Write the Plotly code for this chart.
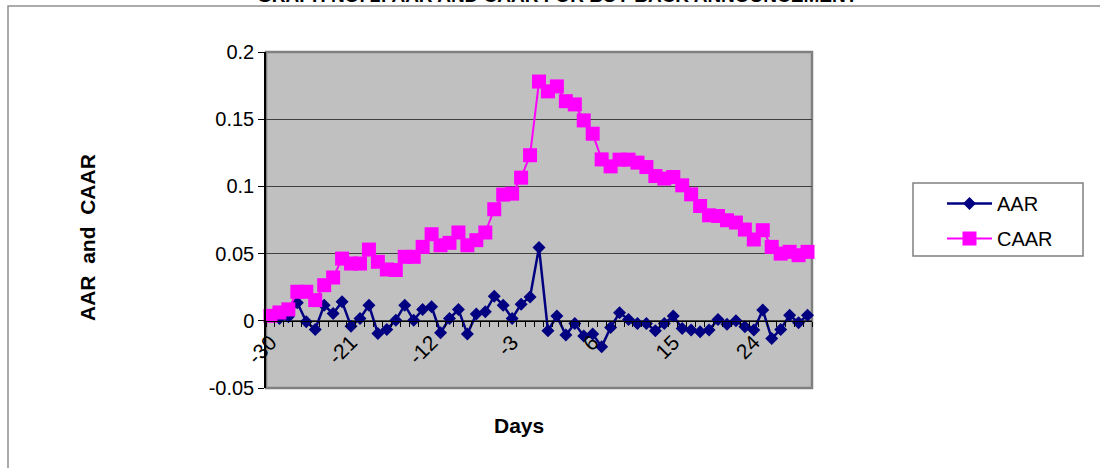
import plotly.graph_objects as go

days = list(range(-30, 31))

aar = [0.0037, 0.0017, 0.0030, 0.0134, -0.0007, -0.0064, 0.0116, 0.0054, 0.0141, -0.0040,
       0.0017, 0.0116, -0.0094, -0.0064, 0.0005, 0.0116, 0.0005, 0.0084, 0.0104, -0.0089,
       0.0017, 0.0084, -0.0099, 0.0050, 0.0067, 0.0183, 0.0116, 0.0017, 0.0124, 0.0178,
       0.0545, -0.0074, 0.0035, -0.0106, -0.0020, -0.0114, -0.0099, -0.0193, -0.0049, 0.0060,
       0.0010, -0.0020, -0.0020, -0.0074, -0.0020, 0.0035, -0.0057, -0.0069, -0.0082, -0.0069,
       0.0010, -0.0025, 0.0000, -0.0045, -0.0069, 0.0080, -0.0131, -0.0064, 0.0042, -0.0015,
       0.0042]

caar = [0.0037, 0.0062, 0.0085, 0.0216, 0.0216, 0.0154, 0.0265, 0.0322, 0.0463, 0.0426,
        0.0426, 0.0530, 0.0439, 0.0382, 0.0378, 0.0476, 0.0476, 0.0550, 0.0644, 0.0562,
        0.0580, 0.0657, 0.0562, 0.0600, 0.0657, 0.0830, 0.0939, 0.0946, 0.1065, 0.1232,
        0.1780, 0.1707, 0.1744, 0.1634, 0.1610, 0.1491, 0.1392, 0.1201, 0.1149, 0.1199,
        0.1199, 0.1177, 0.1144, 0.1077, 0.1058, 0.1070, 0.1008, 0.0941, 0.0854, 0.0785,
        0.0780, 0.0748, 0.0731, 0.0679, 0.0605, 0.0674, 0.0550, 0.0500, 0.0513, 0.0488,
        0.0513]

x_tick_vals = [-30, -21, -12, -3, 6, 15, 24]
x_tick_text = ["-30", "-21", "-12", "-3", "6", "15", "24"]
y_tick_vals = [-0.05, 0, 0.05, 0.1, 0.15, 0.2]
y_tick_text = ["-0.05", "0", "0.05", "0.1", "0.15", "0.2"]

title_text = "GRAPH NO. 2: AAR AND CAAR FOR BUY BACK ANNOUNCEMENT"

FONT = "Arial, Liberation Sans, sans-serif"

# plot area in pixels
L, T, W, H = 266, 52, 546, 336
B = T + H


def px(x):
    return (x - L) / W


def py(y):
    return (B - y) / H


fig = go.Figure()
fig.add_trace(go.Scatter(
    x=days, y=aar, name="AAR", mode="lines+markers",
    line=dict(color="#000080", width=2.5),
    marker=dict(symbol="diamond", size=10, color="#000080"),
    cliponaxis=False, legendgroup="a"))
fig.add_trace(go.Scatter(
    x=days, y=caar, name="CAAR", mode="lines+markers",
    line=dict(color="#FF00FF", width=2),
    marker=dict(symbol="square", size=14, color="#FF00FF"),
    cliponaxis=False, legendgroup="b"))

fig.update_layout(
    width=1100, height=468,
    margin=dict(l=L, r=1100 - L - W, t=T, b=468 - B, pad=0),
    paper_bgcolor="white", plot_bgcolor="#C0C0C0",
    font=dict(family=FONT, size=20, color="black"),
    showlegend=True,
    legend=dict(x=px(942), y=py(184), xanchor="left", yanchor="top",
                bgcolor="rgba(0,0,0,0)", borderwidth=0,
                font=dict(size=20, family=FONT), traceorder="grouped",
                tracegroupgap=6, itemwidth=45),
    xaxis=dict(range=[-30.5, 30.5], anchor="free", position=0.2,
               tickmode="array", tickvals=x_tick_vals, ticktext=x_tick_text,
               tickangle=-45, ticks="", showgrid=False, zeroline=False,
               showline=True, linecolor="black", linewidth=1,
               tickfont=dict(size=21, family=FONT),
               minor=dict(ticks="outside", tick0=-30.5, dtick=1, ticklen=5,
                          tickcolor="black", tickwidth=1, showgrid=False)),
    yaxis=dict(range=[-0.05, 0.2], tickmode="array", tickvals=y_tick_vals,
               ticktext=y_tick_text,
               showgrid=True, gridcolor="#404040", gridwidth=1,
               zeroline=False, showline=True, linecolor="black", linewidth=1.5,
               ticks="outside", ticklen=6, tickcolor="black",
               tickfont=dict(size=20, family=FONT)),
)

# plot area border (Excel style)
fig.add_shape(type="rect", xref="paper", yref="paper", x0=0, y0=0, x1=1, y1=1,
              line=dict(color="#808080", width=2.5), layer="below")
# chart area border
fig.add_shape(type="rect", xref="paper", yref="paper",
              x0=px(8), y0=py(700), x1=px(1300), y1=py(6),
              line=dict(color="#909090", width=1.5))
# legend box
fig.add_shape(type="rect", xref="paper", yref="paper",
              x0=px(913), y0=py(256), x1=px(1083), y1=py(183),
              line=dict(color="#808080", width=1.5), fillcolor="white", layer="below")

fig.add_annotation(text="<b>AAR  and  CAAR</b>", xref="paper", yref="paper",
                   x=px(87), y=py(238), textangle=-90, showarrow=False,
                   font=dict(size=21, family=FONT), xanchor="center", yanchor="middle")
fig.add_annotation(text="<b>Days</b>", xref="paper", yref="paper",
                   x=px(519), y=py(425), showarrow=False,
                   font=dict(size=21, family=FONT), xanchor="center", yanchor="middle")
fig.add_annotation(text="<b>" + title_text + "</b>", xref="paper", yref="paper",
                   x=px(557), y=py(-4.5), showarrow=False,
                   font=dict(size=19, family=FONT), xanchor="center", yanchor="middle")

fig.write_html("out.html", config={"displayModeBar": False},
               post_script="document.body.style.margin='0';document.body.style.overflow='hidden';")
